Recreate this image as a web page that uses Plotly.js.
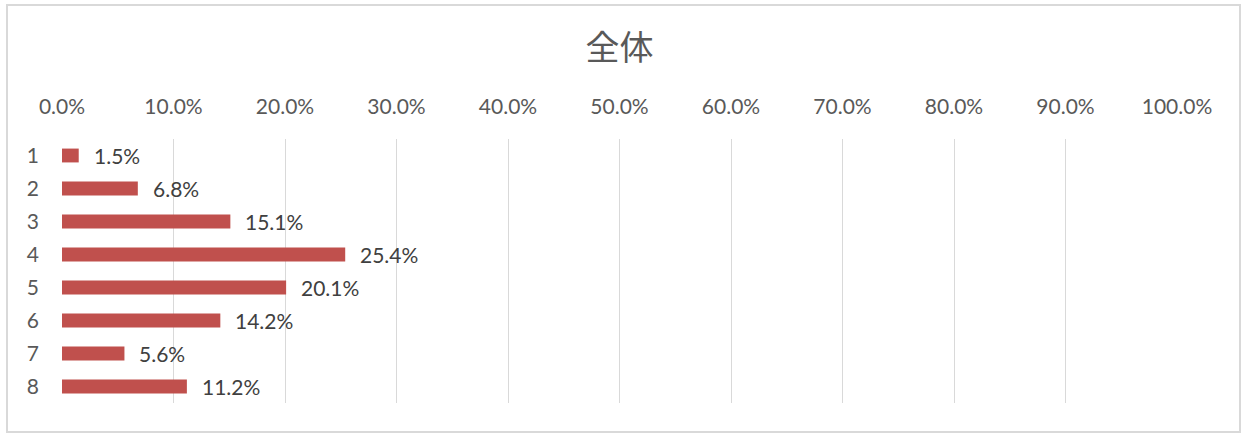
<!DOCTYPE html>
<html>
<head>
<meta charset="utf-8">
<script src="https://cdn.plot.ly/plotly-3.0.1.min.js"></script>
<style>html,body{margin:0;padding:0;background:#fff;}</style>
</head>
<body>
<div id="chart" style="width:1245px;height:434px;"></div>
<script>
const categories = ["1", "2", "3", "4", "5", "6", "7", "8"];
const values = [0.015, 0.068, 0.151, 0.254, 0.201, 0.142, 0.056, 0.112];
const valueLabels = ["1.5%", "6.8%", "15.1%", "25.4%", "20.1%", "14.2%", "5.6%", "11.2%"];
const titleText = "全体";

const font = "Lato, 'Noto Sans CJK JP', sans-serif";

const trace = {
  type: "bar",
  orientation: "h",
  x: values,
  y: categories,
  marker: {color: "#C0504D"},
  width: 0.42,
  hoverinfo: "none"
};

const annotations = categories.map((c, i) => ({
  x: values[i], y: i, xref: "x", yref: "y",
  text: valueLabels[i], showarrow: false,
  xanchor: "left", yanchor: "middle", xshift: 13, yshift: 0,
  font: {family: font, size: 21, color: "#404040"}
}));

const W = 1245, H = 434, L = 62, R = 68, T = 139, B = 31;
const pw = W - L - R, ph = H - T - B;
const px = p => (p - L) / pw;
const py = p => (H - B - p) / ph;

const layout = {
  width: W, height: H,
  margin: {l: L, r: R, t: T, b: B},
  paper_bgcolor: "#fff", plot_bgcolor: "#fff",
  showlegend: false,
  title: {
    text: titleText,
    font: {family: "'Noto Sans CJK JP', sans-serif", size: 34, color: "#595959"},
    x: 0.5, xref: "paper", xanchor: "center",
    y: 1 - 48 / H, yref: "container", yanchor: "middle"
  },
  xaxis: {
    side: "top", range: [0, 1], dtick: 0.1, tick0: 0,
    tickformat: ".1%", showgrid: true, gridcolor: "#D9D9D9", gridwidth: 1,
    zeroline: false, showline: false, ticks: "",
    ticklabelstandoff: 20,
    tickfont: {family: font, size: 21, color: "#595959"},
    fixedrange: true
  },
  yaxis: {
    type: "category", range: [categories.length - 0.5, -0.5],
    showgrid: false, zeroline: false, showline: false, ticks: "",
    ticklabelstandoff: 22,
    tickfont: {family: font, size: 21, color: "#595959"},
    fixedrange: true
  },
  annotations: annotations,
  shapes: [{
    type: "rect", xref: "paper", yref: "paper",
    x0: px(7), x1: px(1240), y0: py(432), y1: py(5),
    line: {color: "#D9D9D9", width: 2}, fillcolor: "rgba(0,0,0,0)", layer: "below"
  }]
};

Plotly.newPlot("chart", [trace], layout, {displayModeBar: false, staticPlot: true});
</script>
</body>
</html>
